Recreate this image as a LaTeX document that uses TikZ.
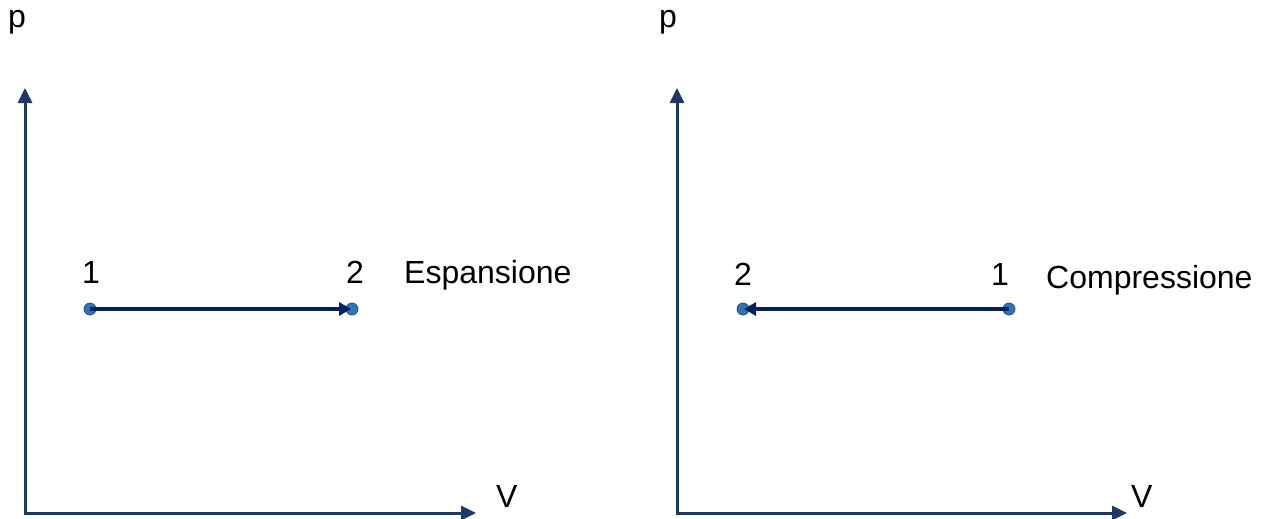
\documentclass[tikz,border=0pt]{standalone}
\usepackage{fontspec}
\setmainfont{Liberation Sans}
\usetikzlibrary{arrows.meta}
\definecolor{axiscol}{HTML}{203864}
\definecolor{procol}{HTML}{002060}
\definecolor{dotcol}{HTML}{2E75B6}
\tikzset{
  axis/.style={draw=axiscol,line width=3pt,-{Triangle[length=15pt,width=14pt]}},
  proc/.style={draw=procol,line width=4.5pt,-{Triangle[length=12pt,width=13pt]},shorten >=1pt},
  pt/.style={circle,fill=dotcol,draw=dotcol!70!black,line width=0.8pt,inner sep=0pt,minimum size=12pt},
  lab/.style={font=\fontsize{32}{38}\selectfont,inner sep=0pt,anchor=base},
  labw/.style={lab,anchor=base west}
}
\begin{document}
\begin{tikzpicture}[x=1pt,y=-1pt]
\useasboundingbox (0,0) rectangle (1266,519);
% left diagram
\coordinate (O1) at (25,513);
\coordinate (Y1) at (25,88);
\coordinate (X1) at (476,513);
\draw[axis] ([yshift=-1.5pt]O1) -- (Y1);
\draw[axis] ([xshift=-1.5pt]O1) -- (X1);
\node[labw] (p1) at (8,28) {p};
\node[labw] (v1) at (496,507) {V};
\node[pt] (a1) at (90,309) {};
\node[pt] (b1) at (352,309) {};
\draw[proc] (a1.center) -- (b1.center);
\node[lab] (l11) at (91,283) {1};
\node[lab] (l12) at (355,283) {2};
\node[labw] (e1) at (404,283) {Espansione};
% right diagram
\coordinate (O2) at (677,513);
\coordinate (Y2) at (677,88);
\coordinate (X2) at (1127,513);
\draw[axis] ([yshift=-1.5pt]O2) -- (Y2);
\draw[axis] ([xshift=-1.5pt]O2) -- (X2);
\node[labw] (p2) at (659,28) {p};
\node[labw] (v2) at (1131,507) {V};
\node[pt] (a2) at (1009,309) {};
\node[pt] (b2) at (743,309) {};
\draw[proc] (a2.center) -- (b2.center);
\node[lab] (l21) at (1000,285) {1};
\node[lab] (l22) at (743,285) {2};
\node[labw] (e2) at (1046,288) {Compressione};
\end{tikzpicture}
\end{document}
